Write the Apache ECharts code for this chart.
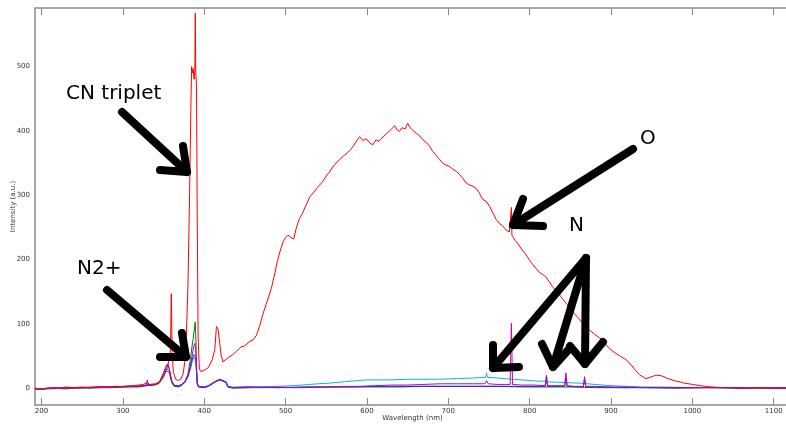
<!DOCTYPE html>
<html><head><meta charset="utf-8">
<script src="https://cdn.jsdelivr.net/npm/echarts@6/dist/echarts.min.js"></script>
<style>html,body{margin:0;padding:0;background:#fff}#c{width:786px;height:426px}</style>
</head><body><div id="c"></div>
<script>
// Wavelength tick labels (nm) and intensity tick labels
const xTicks = [200,300,400,500,600,700,800,900,1000,1100];
const yTicks = [0,100,200,300,400,500];

// [wavelength nm, intensity a.u.]
const redSpectrum = [[192,0],[200,-1],[210,1],[220,0],[230,2],[240,1],[250,2],[260,1],[270,3],[280,2],[290,3],[300,3],[310,4],[320,5],[325,6],[330,9],[333,6],[340,7],[345,10],[350,18],[353,28],[355,32],[357,35],[358.5,60],[359.5,147],[360.5,60],[362,25],[365,14],[368,12],[371,14],[374,22],[376,40],[378,80],[380,160],[382,300],[383.5,430],[384.5,500],[385.5,490],[386.5,497],[387.5,480],[388.5,495],[389,583],[389.5,495],[390.5,470],[391.5,250],[392.5,80],[394,30],[396,26],[400,28],[405,32],[410,45],[413,60],[415,96],[417,92],[419,70],[421,50],[423,41],[426,44],[430,48],[435,52],[440,58],[445,64],[450,66],[456,73],[460,75],[464,82],[468,96],[472,115],[476,130],[480,145],[483,158],[487,180],[490,198],[493,212],[497,228],[500,234],[503,238],[507,234],[510,232],[513,248],[517,264],[520,270],[525,284],[530,298],[535,305],[539,312],[542,316],[546,322],[550,330],[554,336],[558,344],[562,350],[567,356],[572,362],[576,366],[580,371],[584,378],[588,386],[591,391],[595,385],[599,388],[603,382],[607,378],[611,386],[615,384],[620,391],[624,396],[628,400],[631,404],[634,408],[637,402],[640,399],[643,405],[647,403],[650,412],[653,405],[657,400],[661,396],[665,392],[669,386],[673,382],[677,376],[681,368],[685,362],[689,356],[693,350],[697,347],[701,345],[705,341],[710,337],[714,332],[718,326],[722,319],[726,316],[730,314],[734,311],[738,304],[742,294],[747,290],[751,282],[755,272],[759,262],[763,256],[767,252],[771,246],[775,243],[777,240],[777.6,281],[778.2,238],[782,230],[786,224],[790,216],[794,210],[800,199],[804,192],[808,186],[812,180],[816,177],[820,173],[824,166],[828,158],[832,152],[836,146],[840,140],[845,132],[850,124],[855,116],[860,109],[865,101],[870,95],[874,90],[880,84],[885,79],[890,75],[894,67],[900,60],[905,55],[910,51],[915,47],[919,44],[925,36],[930,28],[935,21],[940,17],[943,15],[948,17],[952,19],[956,20],[960,20],[965,18],[970,15],[975,13],[980,11],[985,10],[990,8],[1000,6],[1010,4],[1020,2.5],[1030,1.5],[1040,1],[1050,1],[1060,0.5],[1080,0.5],[1100,0.5],[1120,0.5]];

const cyanSpectrum = [[192,-1],[200,0],[215,-1],[230,1],[245,0],[260,1],[275,2],[290,2],[305,3],[320,3],[330,5],[340,6],[345,9],[350,20],[353,30],[355,33],[357,28],[360,10],[363,4],[368,3],[372,5],[376,9],[380,18],[383,30],[385,40],[387,48],[388.5,50],[389.5,44],[390.5,25],[391.5,7],[393,3],[400,2],[405,4],[410,8],[415,11],[419,13],[423,11],[427,9],[429,3],[435,2],[460,2],[490,3],[500,3.5],[520,5],[540,7],[554,8],[562,9],[580,11],[600,13],[628,13],[650,14],[670,14],[689,14],[710,15],[730,16],[746,17],[747,24],[748,17],[760,16],[780,14],[800,12],[812,11],[820,11],[821,18],[822,10],[840,9],[861,8],[880,6],[900,4],[920,3],[940,2],[960,2],[1000,1],[1050,1],[1120,1]];

const greenSpectrum = [[192,-1],[200,-2],[215,0],[230,-1],[245,1],[260,0],[275,1],[290,1],[305,2],[320,2],[330,4],[340,5],[345,8],[350,18],[353,27],[355,30],[357,25],[360,9],[363,3],[368,2],[372,4],[376,9],[380,22],[383,45],[385,65],[386.5,78],[388,80],[389,103],[389.7,78],[390.5,35],[391.5,6],[393,2],[400,1],[405,3],[410,7],[415,11],[419,13],[423,11],[427,9],[429,2],[435,0],[460,1],[490,1],[520,1],[550,2],[580,2],[610,2],[640,2],[670,3],[700,3],[730,3],[760,3],[790,2],[820,2],[850,2],[880,1],[910,1],[940,1],[980,0],[1020,1],[1060,0],[1120,0]];

const blueSpectrum = [[192,0],[200,-1],[215,1],[230,0],[245,1],[260,1],[275,2],[290,2],[305,3],[320,3],[330,5],[340,6],[345,10],[350,24],[353,34],[355,38],[357,31],[360,11],[363,4],[368,3],[372,5],[376,9],[380,18],[383,32],[385,44],[387,52],[388.5,55],[389.5,48],[390.5,26],[391.5,7],[393,2],[400,1],[405,3],[410,7],[415,11],[419,13],[423,12],[427,9],[429,2],[435,1],[460,2],[490,1],[520,2],[550,2],[580,2],[610,3],[640,3],[670,3],[700,3],[730,3],[760,3],[790,3],[819,3],[820.5,12],[822,3],[843,3],[844.5,16],[846,3],[866,2],[867.5,14],[869,2],[880,2],[910,1],[940,1],[980,1],[1020,1],[1060,1],[1120,1]];

const magentaSpectrum = [[192,-2],[200,-1],[215,0],[230,1],[245,0],[260,2],[275,1],[290,3],[305,2],[320,4],[329,5],[330,13],[331,5],[340,6],[345,10],[350,22],[353,32],[355,36],[357,30],[360,12],[363,5],[368,4],[372,6],[376,10],[380,20],[383,35],[385,50],[387,65],[388.5,70],[389.5,60],[390.5,30],[391.5,8],[393,3],[400,2],[405,4],[410,8],[415,12],[419,14],[423,12],[427,10],[429,3],[435,1],[450,2],[470,1],[490,2],[510,1],[530,2],[550,2],[570,3],[590,3],[610,4],[630,5],[650,5],[670,6],[690,7],[710,7],[730,7],[745,7],[747,12],[749,7],[760,6],[776,6],[777.5,101],[779,6],[790,5],[805,5],[819,4],[820.5,20],[822,4],[835,4],[843,4],[844.5,24],[846,4],[855,3],[866,3],[867.5,18],[869,3],[880,3],[900,2],[920,2],[940,1],[960,1],[980,1],[1000,1],[1020,1],[1040,1],[1060,0],[1080,1],[1100,0],[1120,0]];

const FONT = 'DejaVu Sans';
const chart = echarts.init(document.getElementById('c'), null, {renderer:'canvas'});
const axisCol = '#8a8a8a';
const lineSeries = (name, data, color, z) => ({
  name, type:'line', data, showSymbol:false, symbol:'none', z,
  lineStyle:{color, width:1}, itemStyle:{color}, animation:false, sampling:null
});

// arrows: [shaftStart, tip, headArm1, headArm2]
const arrows = [
  [[122,112],[187,172],[183,146],[160,170]],
  [[107,290],[186,357],[182,333],[160,357]],
  [[633,149],[513,225],[523,199],[543,226]],
  [[586,258],[493,368],[493,345],[519,367]],
  [[586,258],[553,367],[542,344],[570,348]],
  [[586,258],[585,364],[570,346],[603,342]]
];
const labels = [
  {text:'CN triplet', x:66, y:95},
  {text:'N2+', x:77, y:270},
  {text:'O', x:640, y:140},
  {text:'N', x:569, y:227}
];

const graphic = [];
arrows.forEach(a => {
  graphic.push({type:'polyline', z:100, shape:{points:[a[0],a[1]]}, style:{stroke:'#000', lineWidth:8, lineCap:'round', fill:null}});
  graphic.push({type:'polyline', z:100, shape:{points:[a[2],a[1],a[3]]}, style:{stroke:'#000', lineWidth:8, lineCap:'round', lineJoin:'round', fill:null}});
});
labels.forEach(l => {
  graphic.push({type:'text', z:100, left:l.x, top:l.y-11, style:{text:l.text, fontSize:20, fontFamily:FONT, fill:'#000'}});
});

const plain = v => String(v);

chart.setOption({
  animation:false,
  backgroundColor:'#fff',
  grid:{left:35, top:8, width:755, height:397, containLabel:false, outerBoundsMode:'none'},
  xAxis:[{
    type:'value', min:192, max:1120, position:'bottom',
    name:'Wavelength (nm)', nameLocation:'middle', nameGap:10, nameMoveOverlap:false,
    nameTextStyle:{fontSize:7, fontFamily:FONT, color:'#333'},
    axisLine:{show:true, onZero:false, lineStyle:{color:axisCol, width:1.5}},
    axisTick:{show:true, inside:true, length:7, customValues:xTicks, lineStyle:{color:axisCol, width:1}},
    axisLabel:{show:true, customValues:xTicks, formatter:plain, fontSize:7, fontFamily:FONT, color:'#333', margin:3},
    splitLine:{show:false}
  },{
    type:'value', min:192, max:1120, position:'top',
    axisLine:{show:true, onZero:false, lineStyle:{color:axisCol, width:1.5}},
    axisTick:{show:true, inside:true, length:7, customValues:xTicks, lineStyle:{color:axisCol, width:1}},
    axisLabel:{show:false},
    splitLine:{show:false}
  }],
  yAxis:{
    type:'value', min:-26, max:591,
    name:'Intensity (a.u.)', nameLocation:'middle', nameGap:18, nameRotate:90, nameMoveOverlap:false,
    nameTextStyle:{fontSize:7, fontFamily:FONT, color:'#333'},
    axisLine:{show:true, onZero:false, lineStyle:{color:axisCol, width:1.5}},
    axisTick:{show:false},
    axisLabel:{show:true, customValues:yTicks, formatter:plain, fontSize:7, fontFamily:FONT, color:'#333', margin:5},
    splitLine:{show:false}
  },
  series:[
    lineSeries('cyan', cyanSpectrum, '#00bfbf', 2),
    lineSeries('green', greenSpectrum, '#008000', 3),
    lineSeries('blue', blueSpectrum, '#2020ff', 4),
    lineSeries('magenta', magentaSpectrum, '#c000c0', 5),
    lineSeries('red', redSpectrum, '#ff0000', 6)
  ],
  graphic
});
</script></body></html>
